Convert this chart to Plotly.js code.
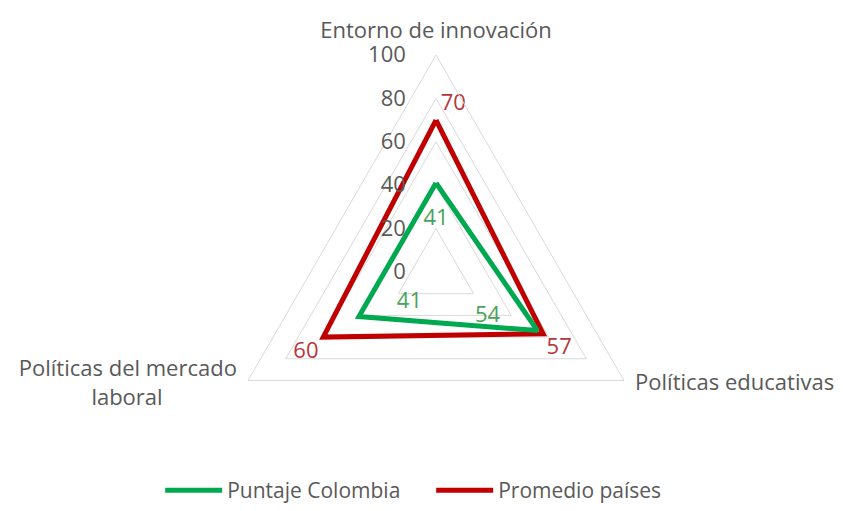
<!DOCTYPE html>
<html>
<head>
<meta charset="utf-8">
<script src="https://cdn.plot.ly/plotly-3.0.1.min.js"></script>
<style>html,body{margin:0;padding:0;background:#fff;}#chart{width:843px;height:511px;}</style>
</head>
<body>
<div id="chart"></div>
<script>
const categories = ["Entorno de innovación", "Políticas educativas", "Políticas del mercado laboral"];
const categoryLabels = ["Entorno de innovación", "Políticas educativas<br>\u00A0<br>\u00A0", "Políticas del mercado<br>laboral" + "\u00A0".repeat(13) + "<br>\u00A0<br>\u00A0<br>\u00A0"];
const colombia = [41, 54, 41];
const promedio = [70, 57, 60];
const seriesNames = ["Puntaje Colombia", "Promedio países"];
const radialTicks = [0, 20, 40, 60, 80, 100];

const closeLoop = a => a.concat([a[0]]);

const traces = [
  {
    type: "scatterpolar",
    name: seriesNames[1],
    r: closeLoop(promedio),
    theta: closeLoop(categories),
    mode: "lines+markers+text",
    texttemplate: ["%{r}", "%{r}", "%{r}", ""],
    textposition: ["top right", "bottom right", "bottom left", "top right"],
    textfont: {family: "Open Sans", size: 22, color: "#b8353a"},
    marker: {size: [6, 4, 6, 1], color: "rgba(0,0,0,0)", opacity: 0, line: {width: 0}},
    line: {color: "#c00000", width: 5},
    cliponaxis: false,
    hoverinfo: "skip"
  },
  {
    type: "scatterpolar",
    name: seriesNames[0],
    r: closeLoop(colombia),
    theta: closeLoop(categories),
    mode: "lines+markers+text",
    texttemplate: ["%{r}", "%{r}<br>\u00A0", "%{r}<br>\u00A0", ""],
    textposition: ["bottom center", "middle left", "middle right", "bottom center"],
    textfont: {family: "Open Sans", size: 22, color: "#4aa35a"},
    marker: {size: [39, 58, 59, 1], color: "rgba(0,0,0,0)", opacity: 0, line: {width: 0}},
    line: {color: "#00a94f", width: 5},
    cliponaxis: false,
    hoverinfo: "skip"
  }
];

const layout = {
  width: 843, height: 511,
  margin: {l: 0, r: 0, t: 0, b: 0},
  paper_bgcolor: "#fff",
  font: {family: "Open Sans", color: "#595959", size: 20},
  showlegend: true,
  legend: {orientation: "h", traceorder: "reversed", x: 0.19, xanchor: "left", y: 0.0, yanchor: "bottom",
           font: {size: 21, color: "#595959"}, itemwidth: 57, entrywidth: 199, tracegroupgap: 0},
  polar: {
    domain: {x: [0.2598, 0.7746], y: [0.0431, 0.8924]},
    gridshape: "linear",
    bgcolor: "#fff",
    radialaxis: {
      range: [0, 100], tickvals: radialTicks, ticktext: radialTicks.map(String),
      angle: 90, side: "counterclockwise", tickangle: 90,
      showline: false, gridcolor: "#d9d9d9", gridwidth: 1,
      ticks: "outside", ticklen: 22, tickcolor: "rgba(0,0,0,0)",
      tickfont: {size: 22, color: "#595959"}
    },
    angularaxis: {
      rotation: 90, direction: "clockwise",
      tickmode: "array", tickvals: categories, ticktext: categoryLabels,
      showgrid: false, showline: true, linecolor: "#d9d9d9", linewidth: 1,
      ticks: "outside", ticklen: 8, tickcolor: "rgba(0,0,0,0)",
      tickfont: {size: 22, color: "#595959"}
    }
  }
};

Plotly.newPlot("chart", traces, layout, {displayModeBar: false, staticPlot: true});
</script>
</body>
</html>
